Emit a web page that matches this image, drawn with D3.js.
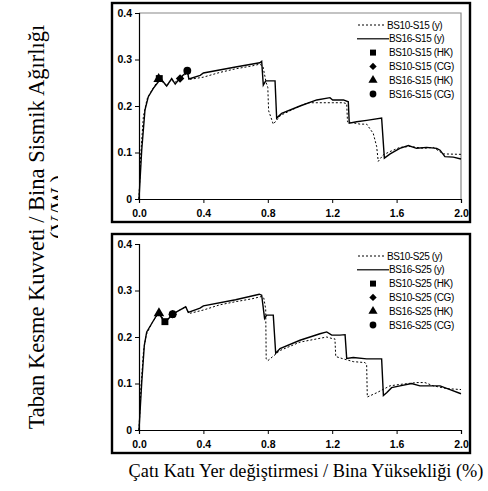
<!DOCTYPE html>
<html>
<head>
<meta charset="utf-8">
<script src="https://cdn.jsdelivr.net/npm/d3@7"></script>
<style>
  body { margin: 0; background: #fff; }
  text { font-family: "Liberation Sans", Arial, sans-serif; }
</style>
</head>
<body>
<div id="chart"></div>
<script>
// top panel (S15)
var xTopB10 = [0, 0.01, 0.027, 0.05, 0.068, 0.1, 0.126, 0.15, 0.172, 0.2, 0.22, 0.255, 0.28, 0.30, 0.31, 0.4, 0.5, 0.6, 0.7, 0.75, 0.77, 0.79, 0.80, 0.805, 0.834, 0.88, 1.0, 1.05, 1.1, 1.2, 1.27, 1.29, 1.295, 1.373, 1.414, 1.455, 1.476, 1.486, 1.517, 1.559, 1.62, 1.683, 1.766, 1.828, 1.89, 2.0];
var yTopB10 = [0, 0.09, 0.177, 0.215, 0.227, 0.245, 0.259, 0.25, 0.243, 0.257, 0.25, 0.259, 0.265, 0.272, 0.257, 0.262, 0.272, 0.28, 0.286, 0.29, 0.285, 0.25, 0.24, 0.19, 0.161, 0.18, 0.2, 0.207, 0.207, 0.207, 0.207, 0.205, 0.166, 0.161, 0.161, 0.141, 0.113, 0.081, 0.095, 0.102, 0.111, 0.113, 0.109, 0.111, 0.097, 0.096];
var xTopB16 = [0, 0.017, 0.037, 0.058, 0.089, 0.12, 0.13, 0.15, 0.172, 0.203, 0.225, 0.255, 0.28, 0.30, 0.31, 0.38, 0.4, 0.6, 0.75, 0.762, 0.772, 0.787, 0.845, 0.855, 0.886, 1.0, 1.104, 1.186, 1.203, 1.27, 1.3, 1.306, 1.352, 1.414, 1.507, 1.524, 1.56, 1.62, 1.673, 1.724, 1.787, 1.849, 1.87, 1.9, 1.952, 2.0];
var yTopB16 = [0, 0.106, 0.191, 0.22, 0.238, 0.252, 0.259, 0.252, 0.243, 0.259, 0.247, 0.26, 0.268, 0.276, 0.258, 0.266, 0.271, 0.284, 0.293, 0.296, 0.245, 0.254, 0.254, 0.174, 0.184, 0.2, 0.213, 0.218, 0.213, 0.213, 0.209, 0.163, 0.166, 0.169, 0.174, 0.088, 0.097, 0.109, 0.115, 0.109, 0.111, 0.109, 0.105, 0.091, 0.09, 0.086];
// markers top: HK10, CG10, HK16, CG16
var mkTopX = [0.126, 0.255, 0.122, 0.30];
var mkTopY = [0.259, 0.259, 0.258, 0.276];

// bottom panel (S25)
var xBotB10 = [0, 0.012, 0.028, 0.045, 0.079, 0.11, 0.124, 0.15, 0.161, 0.18, 0.209, 0.244, 0.275, 0.29, 0.306, 0.317, 0.4, 0.5, 0.6, 0.7, 0.76, 0.775, 0.787, 0.79, 0.80, 0.876, 1.0, 1.166, 1.207, 1.217, 1.222, 1.269, 1.331, 1.404, 1.414, 1.418, 1.476, 1.559, 1.621, 1.724, 1.776, 1.828, 1.911, 2.0];
var yBotB10 = [0, 0.09, 0.17, 0.205, 0.229, 0.245, 0.25, 0.24, 0.233, 0.24, 0.249, 0.256, 0.262, 0.265, 0.253, 0.251, 0.258, 0.269, 0.276, 0.282, 0.287, 0.284, 0.26, 0.153, 0.149, 0.171, 0.189, 0.2, 0.196, 0.196, 0.158, 0.153, 0.147, 0.145, 0.14, 0.071, 0.08, 0.095, 0.098, 0.102, 0.102, 0.095, 0.089, 0.087];
var xBotB16 = [0, 0.017, 0.033, 0.048, 0.079, 0.11, 0.124, 0.151, 0.161, 0.18, 0.209, 0.244, 0.275, 0.29, 0.306, 0.379, 0.4, 0.6, 0.747, 0.762, 0.78, 0.793, 0.834, 0.849, 0.876, 1.0, 1.124, 1.166, 1.197, 1.248, 1.28, 1.29, 1.331, 1.414, 1.507, 1.518, 1.538, 1.569, 1.621, 1.693, 1.745, 1.828, 1.87, 1.932, 2.0];
var yBotB16 = [0, 0.102, 0.182, 0.211, 0.229, 0.247, 0.251, 0.236, 0.233, 0.238, 0.249, 0.256, 0.262, 0.265, 0.253, 0.262, 0.267, 0.28, 0.292, 0.29, 0.24, 0.247, 0.247, 0.165, 0.175, 0.193, 0.207, 0.211, 0.204, 0.204, 0.205, 0.154, 0.156, 0.153, 0.153, 0.074, 0.08, 0.091, 0.095, 0.1, 0.095, 0.095, 0.095, 0.087, 0.078];
var mkBotX = [0.161, 0.209, 0.124, 0.209];
var mkBotY = [0.233, 0.249, 0.251, 0.249];

var xTicks = [0, 0.4, 0.8, 1.2, 1.6, 2.0];
var yTicks = [0, 0.1, 0.2, 0.3, 0.4];
var legTop = ['BS10-S15 (y)', 'BS16-S15 (y)', 'BS10-S15 (HK)', 'BS10-S15 (CG)', 'BS16-S15 (HK)', 'BS16-S15 (CG)'];
var legBot = ['BS10-S25 (y)', 'BS16-S25 (y)', 'BS10-S25 (HK)', 'BS10-S25 (CG)', 'BS16-S25 (HK)', 'BS16-S25 (CG)'];
var markerTypes = [d3.symbolSquare, d3.symbolSquare, d3.symbolTriangle, d3.symbolCircle];
var markerRot = [0, 45, 0, 0];

var svg = d3.select('#chart').append('svg')
  .attr('width', 488)
  .attr('height', 491);

function marker(k, cx, cy, s){
  svg.append('path')
    .attr('transform', 'translate(' + cx + ',' + cy + ') rotate(' + markerRot[k] + ')')
    .attr('d', d3.symbol().type(markerTypes[k]).size(k === 1 ? s * 0.75 : s)())
    .attr('fill', '#000');
}

function panel(top, xa, ya, xb, yb, mx, my, leg, bordered){
  var frame = {x: 112, y: top, w: 358, h: 219};
  svg.append('rect')
    .attr('x', frame.x).attr('y', frame.y)
    .attr('width', frame.w).attr('height', frame.h)
    .attr('fill', 'none').attr('stroke', '#000').attr('stroke-width', 2.4);

  var x = d3.scaleLinear().domain([0, 2]).range([139, 461]);
  var y = d3.scaleLinear().domain([0, 0.4]).range([top + 196, top + 10]);

  if (bordered) {
    svg.append('path')
      .attr('d', 'M' + x(0) + ',' + y(0.4) + 'H' + x(2) + 'V' + y(0))
      .attr('fill', 'none').attr('stroke', '#888').attr('stroke-width', 1.2);
  }

  var g = svg.append('g');
  g.append('g')
    .attr('transform', 'translate(' + x(0) + ',0)')
    .call(d3.axisLeft(y).tickValues(yTicks).tickSize(4).tickPadding(3)
      .tickFormat(function(d){ return d === 0 ? '0' : d3.format('.1f')(d); }));
  var xAxis = g.append('g')
    .attr('transform', 'translate(0,' + y(0) + ')')
    .call(d3.axisBottom(x).tickValues(xTicks).tickSize(4).tickPadding(4)
      .tickFormat(d3.format('.1f')));
  g.selectAll('.domain').attr('stroke', '#000').attr('stroke-width', 1.2);
  g.selectAll('.tick line').attr('stroke', '#000');
  g.selectAll('.tick text')
    .attr('font-family', '"Liberation Sans", Arial, sans-serif')
    .attr('font-weight', 'bold').attr('font-size', 10.5).attr('fill', '#000');
  xAxis.selectAll('.tick text').attr('dy', '0.95em');

  var line = d3.line()
    .x(function(d){ return x(d[0]); })
    .y(function(d){ return y(d[1]); });

  svg.append('path')
    .datum(d3.zip(xa, ya))
    .attr('d', line)
    .attr('fill', 'none').attr('stroke', '#000')
    .attr('stroke-width', 1).attr('stroke-dasharray', '2,2');
  svg.append('path')
    .datum(d3.zip(xb, yb))
    .attr('d', line)
    .attr('fill', 'none').attr('stroke', '#000').attr('stroke-width', 1.4);

  [2, 0, 1, 3].forEach(function(i){
    marker(i, x(mx[i]), y(my[i]), 48);
  });

  // legend
  var lx = 387, ly = top + 22, step = 13.8;
  svg.append('line')
    .attr('x1', 358).attr('x2', 384).attr('y1', ly).attr('y2', ly)
    .attr('stroke', '#000').attr('stroke-width', 1).attr('stroke-dasharray', '2,2');
  svg.append('line')
    .attr('x1', 357).attr('x2', 389).attr('y1', ly + step).attr('y2', ly + step)
    .attr('stroke', '#000').attr('stroke-width', 1.2);
  for (var k = 0; k < 4; k++) {
    marker(k, 373, ly + step * (k + 2), 36);
  }
  leg.forEach(function(t, k){
    svg.append('text')
      .attr('x', k === 0 ? lx : lx + 2).attr('y', ly + step * k)
      .attr('dy', '0.35em')
      .attr('font-size', 10).attr('letter-spacing', -0.4)
      .attr('fill', '#000')
      .text(t);
  });
}

panel(3, xTopB10, yTopB10, xTopB16, yTopB16, mkTopX, mkTopY, legTop, true);
panel(234, xBotB10, yBotB10, xBotB16, yBotB16, mkBotX, mkBotY, legBot, false);

// axis titles
svg.append('text')
  .attr('x', 306).attr('y', 477)
  .attr('text-anchor', 'middle')
  .style('font-family', '"Liberation Serif", "Times New Roman", serif')
  .attr('font-size', 18.3)
  .text('Çatı Katı Yer değiştirmesi / Bina Yüksekliği (%)');

svg.append('defs').append('clipPath').attr('id', 'ycut')
  .append('rect').attr('x', 0).attr('y', 0).attr('width', 58).attr('height', 491);

svg.append('text')
  .attr('transform', 'translate(44,227) rotate(-90)')
  .attr('text-anchor', 'middle')
  .style('font-family', '"Liberation Serif", "Times New Roman", serif')
  .attr('font-size', 22.5)
  .text('Taban Kesme Kuvveti / Bina Sismik  Ağırlığı');
svg.append('g').attr('clip-path', 'url(#ycut)')
  .append('text')
  .attr('transform', 'translate(66,207) rotate(-90)')
  .attr('text-anchor', 'middle')
  .style('font-family', '"Liberation Serif", "Times New Roman", serif')
  .attr('font-size', 22.5)
  .text('(V/W   )');
</script>
</body>
</html>
